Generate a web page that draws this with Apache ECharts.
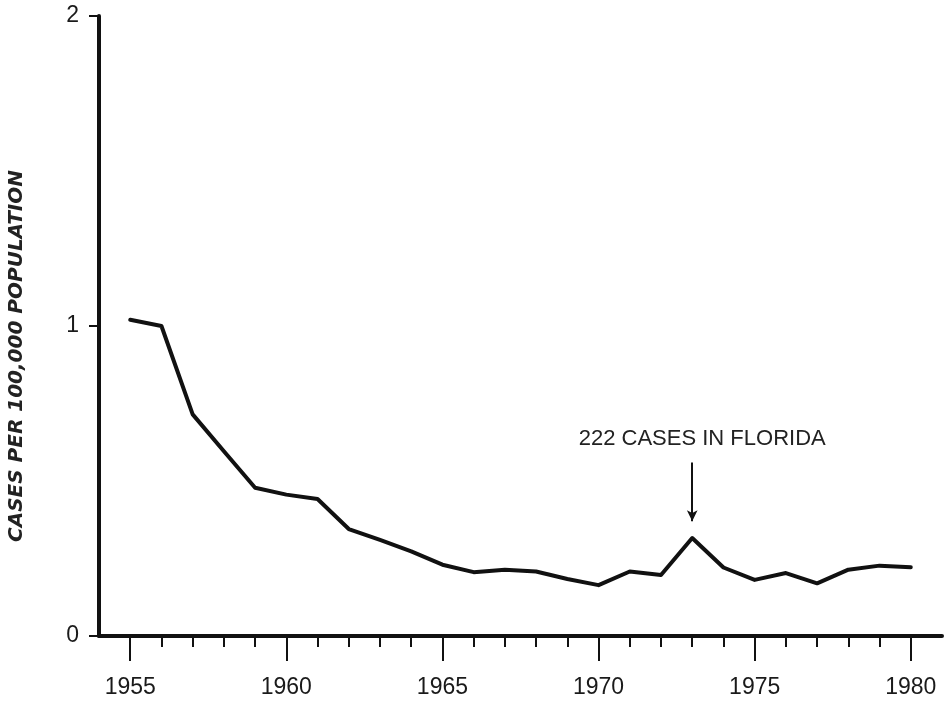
<!DOCTYPE html>
<html>
<head>
<meta charset="utf-8">
<script src="https://cdn.jsdelivr.net/npm/echarts@6/dist/echarts.min.js"></script>
<style>
  html, body { margin: 0; padding: 0; background: #fff; }
  #chart { width: 946px; height: 703px; }
</style>
</head>
<body>
<div id="chart"></div>
<script>
// Annual rate, cases per 100,000 population
const years = [1955, 1956, 1957, 1958, 1959, 1960, 1961, 1962, 1963, 1964,
               1965, 1966, 1967, 1968, 1969, 1970, 1971, 1972, 1973, 1974,
               1975, 1976, 1977, 1978, 1979, 1980];
const rates = [1.02, 1.00, 0.715, 0.596, 0.478, 0.456, 0.442, 0.345, 0.31, 0.273,
               0.23, 0.206, 0.214, 0.208, 0.184, 0.164, 0.208, 0.197, 0.316, 0.221,
               0.181, 0.203, 0.17, 0.214, 0.227, 0.222];

const majorYears = [1955, 1960, 1965, 1970, 1975, 1980];
const minorYears = years.filter(y => majorYears.indexOf(y) < 0);
const yTicks = [0, 1, 2];

const calloutYear = 1973;
const calloutText = '222 CASES IN FLORIDA';

const ink = '#111';
const font = '"Liberation Sans", Arial, Helvetica, sans-serif';

const chart = echarts.init(document.getElementById('chart'), null, { renderer: 'canvas' });

chart.setOption({
  animation: false,
  backgroundColor: '#fff',
  grid: { left: 99, right: 4, top: 16, bottom: 67, containLabel: false },
  xAxis: [
    {
      // axis line, yearly short ticks
      type: 'value', min: 1954, max: 1981,
      axisLine: { show: true, lineStyle: { color: ink, width: 4 } },
      axisTick: { show: true, customValues: minorYears, length: 11,
                  lineStyle: { color: ink, width: 2 } },
      axisLabel: { show: false },
      splitLine: { show: false }
    },
    {
      // long ticks and labels every five years
      type: 'value', min: 1954, max: 1981, position: 'bottom', offset: 0,
      axisLine: { show: false },
      axisTick: { show: true, customValues: majorYears, length: 25,
                  lineStyle: { color: ink, width: 2 } },
      axisLabel: { show: true, customValues: majorYears, margin: 40,
                   color: '#1a1a1a', fontSize: 23, fontFamily: font,
                   formatter: v => String(v) },
      splitLine: { show: false }
    }
  ],
  yAxis: {
    type: 'value', min: 0, max: 2,
    axisLine: { show: true, lineStyle: { color: ink, width: 4 } },
    axisTick: { show: true, customValues: yTicks, length: 10,
                lineStyle: { color: ink, width: 2 } },
    axisLabel: { show: true, customValues: yTicks, margin: 20,
                 color: '#1a1a1a', fontSize: 23, fontFamily: font },
    splitLine: { show: false }
  },
  graphic: [
    {
      type: 'text', x: 17, y: 356, rotation: Math.PI / 2,
      style: {
        text: 'CASES PER 100,000 POPULATION',
        fill: '#222',
        font: 'italic bold 20px "DejaVu Sans", sans-serif',
        textAlign: 'center', textVerticalAlign: 'middle'
      }
    }
  ],
  series: [
    {
      type: 'line',
      data: years.map((y, i) => [y, rates[i]]),
      showSymbol: false,
      symbol: 'none',
      lineStyle: { color: ink, width: 4, join: 'round', cap: 'round' },
      markLine: {
        silent: true,
        symbol: ['none', 'arrow'],
        symbolSize: [8, 11],
        label: { show: false },
        lineStyle: { color: ink, width: 2, type: 'solid' },
        data: [[
          { coord: [calloutYear, 0.56] },
          { coord: [calloutYear, 0.37] }
        ]]
      },
      markPoint: {
        silent: true,
        symbol: 'circle',
        symbolSize: 0,
        data: [{ coord: [calloutYear, 0.636] }],
        label: {
          show: true, position: 'inside', offset: [10, 0],
          formatter: calloutText,
          color: '#222', fontSize: 22, fontFamily: font
        }
      }
    }
  ]
});
</script>
</body>
</html>
